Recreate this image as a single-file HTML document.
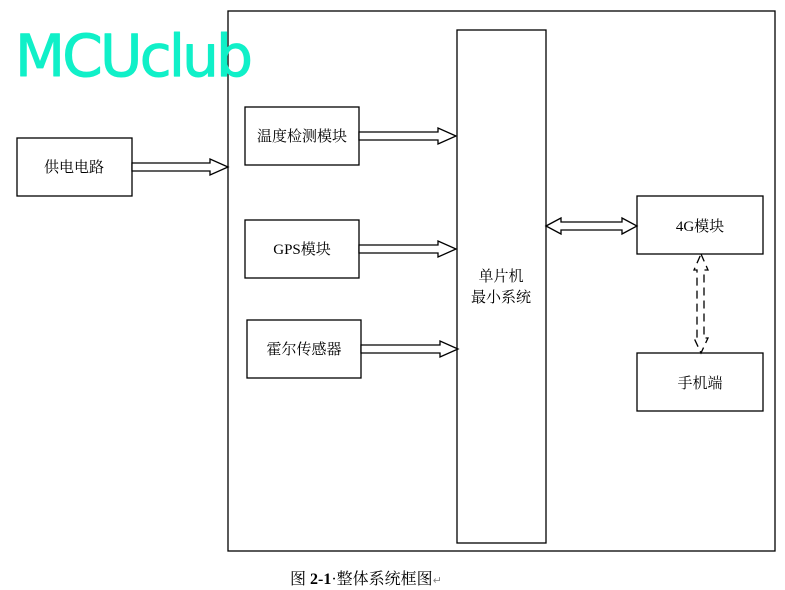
<!DOCTYPE html>
<html><head><meta charset="utf-8"><style>
html,body{margin:0;padding:0;background:#fff;width:785px;height:590px;overflow:hidden}
svg text{font-family:"Liberation Serif","Noto Serif CJK SC","Noto Sans CJK SC",serif}
</style></head><body>
<svg width="785" height="590" viewBox="0 0 785 590" xmlns="http://www.w3.org/2000/svg">
<g fill="#fff" stroke="#000" stroke-width="1.3">
<rect x="228" y="11" width="547" height="540"/>
<rect x="457" y="30" width="89" height="513"/>
<rect x="17" y="138" width="115" height="58"/>
<rect x="245" y="107" width="114" height="58"/>
<rect x="245" y="220" width="114" height="58"/>
<rect x="247" y="320" width="114" height="58"/>
<rect x="637" y="196" width="126" height="58"/>
<rect x="637" y="353" width="126" height="58"/>
<polygon points="132,163 210,163 210,159 228,167 210,175 210,171 132,171"/>
<polygon points="359,132 438,132 438,128 456,136 438,144 438,140 359,140"/>
<polygon points="359,245 438,245 438,241 456,249 438,257 438,253 359,253"/>
<polygon points="361,345 440,345 440,341 458,349 440,357 440,353 361,353"/>
<polygon points="546,226 561,218 561,222 622,222 622,218 637,226 622,234 622,230 561,230 561,234"/>
<polygon points="701,254 708,270 704,270 704,338 708,338 701,353 694,338 697,338 697,270 694,270" stroke-dasharray="8,5"/>
</g>
<text x="15" y="76" font-size="58" fill="#10f0c8" stroke="#10f0c8" stroke-width="1" stroke-linejoin="round" style="font-family:'Comic Sans MS','DejaVu Sans','Liberation Sans',sans-serif" textLength="238">MCUclub</text>
<g font-size="15" fill="#000" text-anchor="middle">
<text x="74" y="172">供电电路</text>
<text x="302" y="141">温度检测模块</text>
<text x="302" y="254">GPS模块</text>
<text x="304" y="354">霍尔传感器</text>
<text x="501" y="281">单片机</text>
<text x="501" y="302">最小系统</text>
<text x="700" y="231">4G模块</text>
<text x="700" y="388">手机端</text>
</g>
<text x="290" y="584" font-size="16" fill="#000">图 <tspan font-weight="bold">2-1</tspan>·整体系统框图<tspan font-size="11" fill="#888">↵</tspan></text>
</svg>
</body></html>
